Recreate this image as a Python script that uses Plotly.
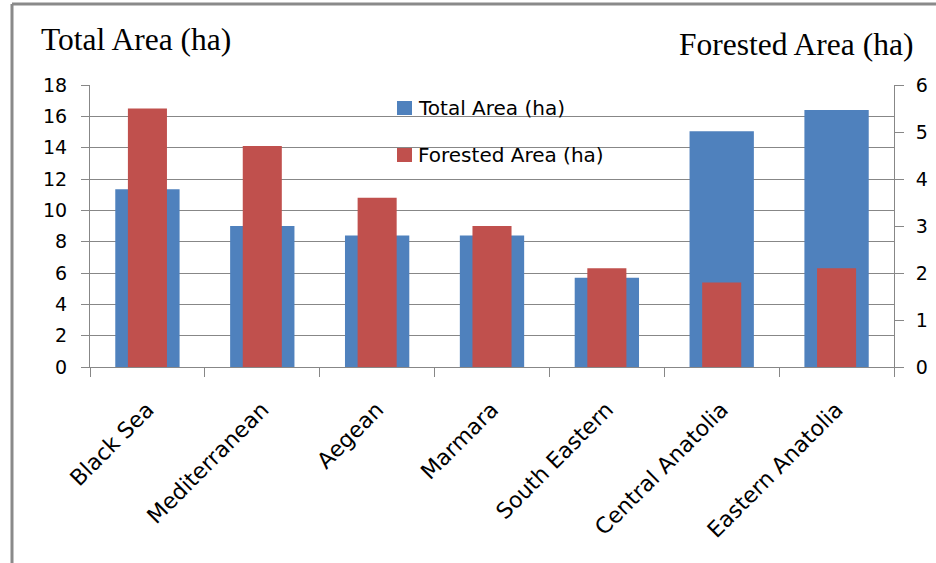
import plotly.graph_objects as go

# Regional land data
regions = ["Black Sea", "Mediterranean", "Aegean", "Marmara",
           "South Eastern", "Central Anatolia", "Eastern Anatolia"]
total_area = [11.35, 9.0, 8.4, 8.4, 5.7, 15.05, 16.4]
forested_area = [5.5, 4.7, 3.6, 3.0, 2.1, 1.8, 2.1]
series_names = ["Total Area (ha)", "Forested Area (ha)"]
left_title = "Total Area (ha)"
right_title = "Forested Area (ha)"

BLUE = "#4F81BD"
RED = "#C0504D"
GRID = "#878787"

W, H = 936, 563
PL, PR, PT, PB = 90, 894, 85, 367  # plot-area edges in pixels


def px_x(px):
    return (px - PL) / (PR - PL)


def px_y(py):
    return (PB - py) / (PB - PT)


fig = go.Figure()
fig.add_trace(go.Bar(x=regions, y=total_area, name=series_names[0],
                     marker=dict(color=BLUE, line=dict(width=0)),
                     width=0.56, yaxis="y"))
fig.add_trace(go.Bar(x=regions, y=forested_area, name=series_names[1],
                     marker=dict(color=RED, line=dict(width=0)),
                     width=0.34, yaxis="y2"))

tick_font = dict(family="DejaVu Sans", size=19, color="#000000")
cat_font = dict(family="DejaVu Sans", size=22, color="#000000")

shapes = [
    # outer frame (left and top edges)
    dict(type="line", xref="paper", yref="paper",
         x0=px_x(12), x1=px_x(12), y0=px_y(4), y1=px_y(H + 5),
         line=dict(color="#8a8a8a", width=3)),
    dict(type="line", xref="paper", yref="paper",
         x0=px_x(12), x1=px_x(W + 5), y0=px_y(4), y1=px_y(4),
         line=dict(color="#8a8a8a", width=3)),
]

annotations = [
    dict(text=left_title, xref="paper", yref="paper",
         x=px_x(39), y=px_y(39), xanchor="left", yanchor="middle",
         showarrow=False,
         font=dict(family="Liberation Serif", size=31.5, color="#000000")),
    dict(text=right_title, xref="paper", yref="paper",
         x=px_x(915), y=px_y(44), xanchor="right", yanchor="middle",
         showarrow=False,
         font=dict(family="Liberation Serif", size=31.5, color="#000000")),
]

# legend drawn as swatches and labels
legend_rows = [(series_names[0], BLUE, 108), (series_names[1], RED, 155)]
for name, color, cy in legend_rows:
    shapes.append(dict(type="rect", xref="paper", yref="paper",
                       x0=px_x(397), x1=px_x(412), y0=px_y(cy - 7), y1=px_y(cy + 7),
                       fillcolor=color, line=dict(width=0), layer="above"))
    annotations.append(dict(text=name, xref="paper", yref="paper",
                            x=px_x(416), y=px_y(cy), xanchor="left", yanchor="middle",
                            showarrow=False,
                            font=dict(family="DejaVu Sans", size=20, color="#000000")))

fig.update_layout(
    width=W, height=H,
    margin=dict(l=PL, r=W - PR, t=PT, b=H - PB, pad=0),
    paper_bgcolor="white", plot_bgcolor="white",
    barmode="overlay", showlegend=False,
    shapes=shapes, annotations=annotations,
    xaxis=dict(type="category", range=[-0.5, 6.5], tickson="boundaries",
               ticks="outside", ticklen=9, tickcolor=GRID, tickwidth=1,
               showline=True, linecolor=GRID, linewidth=1,
               showgrid=False, tickangle=-45, tickfont=cat_font,
               ticklabelstandoff=20, automargin=False),
    yaxis=dict(range=[0, 18], dtick=2, tick0=0, ticks="outside", ticklen=8,
               tickcolor=GRID, showline=True, linecolor=GRID, linewidth=1,
               showgrid=True, gridcolor=GRID, gridwidth=1, zeroline=False,
               tickfont=tick_font, ticklabelstandoff=10, automargin=False),
    yaxis2=dict(range=[0, 6], dtick=1, tick0=0, overlaying="y", side="right",
                ticks="outside", ticklen=9, tickcolor=GRID, showline=True,
                linecolor=GRID, linewidth=1, showgrid=False, zeroline=False,
                tickfont=tick_font, ticklabelstandoff=8, automargin=False),
)

fig.write_html("out.html")
